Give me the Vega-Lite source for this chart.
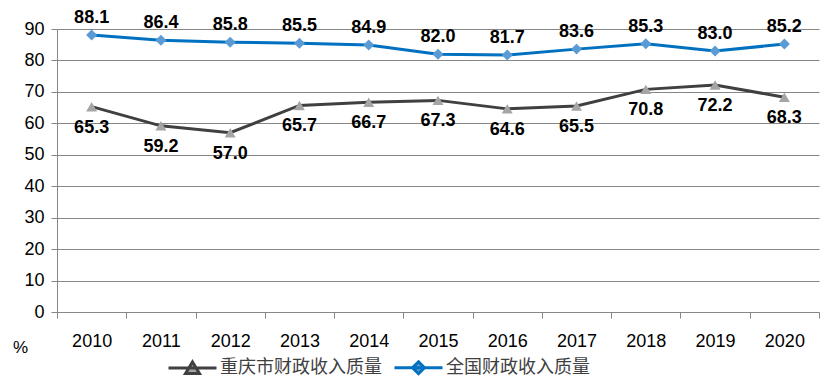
{
  "$schema": "https://vega.github.io/schema/vega-lite/v6.json",
  "width": 762,
  "height": 283,
  "autosize": "none",
  "padding": {"left": 57, "top": 29, "right": 5, "bottom": 76},
  "background": "white",
  "config": {"view": {"stroke": null}},
  "data": {"values": [
    {"year": "2010", "series": "重庆市财政收入质量", "value": 65.3},
    {"year": "2011", "series": "重庆市财政收入质量", "value": 59.2},
    {"year": "2012", "series": "重庆市财政收入质量", "value": 57.0},
    {"year": "2013", "series": "重庆市财政收入质量", "value": 65.7},
    {"year": "2014", "series": "重庆市财政收入质量", "value": 66.7},
    {"year": "2015", "series": "重庆市财政收入质量", "value": 67.3},
    {"year": "2016", "series": "重庆市财政收入质量", "value": 64.6},
    {"year": "2017", "series": "重庆市财政收入质量", "value": 65.5},
    {"year": "2018", "series": "重庆市财政收入质量", "value": 70.8},
    {"year": "2019", "series": "重庆市财政收入质量", "value": 72.2},
    {"year": "2020", "series": "重庆市财政收入质量", "value": 68.3},
    {"year": "2010", "series": "全国财政收入质量", "value": 88.1},
    {"year": "2011", "series": "全国财政收入质量", "value": 86.4},
    {"year": "2012", "series": "全国财政收入质量", "value": 85.8},
    {"year": "2013", "series": "全国财政收入质量", "value": 85.5},
    {"year": "2014", "series": "全国财政收入质量", "value": 84.9},
    {"year": "2015", "series": "全国财政收入质量", "value": 82.0},
    {"year": "2016", "series": "全国财政收入质量", "value": 81.7},
    {"year": "2017", "series": "全国财政收入质量", "value": 83.6},
    {"year": "2018", "series": "全国财政收入质量", "value": 85.3},
    {"year": "2019", "series": "全国财政收入质量", "value": 83.0},
    {"year": "2020", "series": "全国财政收入质量", "value": 85.2}
  ]},
  "encoding": {
    "x": {
      "field": "year", "type": "ordinal",
      "scale": {"type": "band", "paddingInner": 0, "paddingOuter": 0},
      "axis": {
        "title": null, "labelAngle": 0, "tickBand": "extent",
        "domainColor": "#868686", "tickColor": "#868686", "tickSize": 6,
        "labelFont": "Liberation Sans Narrow, Liberation Sans",
        "labelFontSize": 18, "labelColor": "#000000", "labelPadding": 14
      }
    },
    "y": {
      "field": "value", "type": "quantitative",
      "scale": {"domain": [0, 90], "nice": false},
      "axis": {
        "values": [0, 10, 20, 30, 40, 50, 60, 70, 80, 90],
        "title": "%", "titleAngle": 0, "titleX": -37, "titleY": 318,
        "titleAlign": "center", "titleBaseline": "middle",
        "titleFont": "Liberation Sans Narrow, Liberation Sans",
        "titleFontSize": 17, "titleFontWeight": "normal", "titleColor": "#000000",
        "grid": true, "gridColor": "#868686", "gridWidth": 1,
        "domainColor": "#868686", "tickColor": "#868686", "tickSize": 6,
        "labelFont": "Liberation Sans Narrow, Liberation Sans",
        "labelFontSize": 18, "labelColor": "#000000", "labelPadding": 7
      }
    }
  },
  "layer": [
    {
      "mark": {"type": "line", "strokeWidth": 3},
      "encoding": {
        "color": {
          "field": "series", "type": "nominal",
          "scale": {"domain": ["重庆市财政收入质量", "全国财政收入质量"], "range": ["#404040", "#0070C0"]},
          "legend": {
            "title": null, "orient": "none", "direction": "horizontal",
            "legendX": 110, "legendY": 313,
            "symbolType": "M-1,0L1,0", "symbolSize": 2304, "symbolStrokeWidth": 3,
            "labelFont": "Noto Sans CJK SC", "labelFontSize": 18, "labelColor": "#404040",
            "labelLimit": 400, "labelOffset": 2, "columnPadding": 6,
            "encode": {
              "symbols": {
                "update": {
                  "shape": {"signal": "datum.value === '重庆市财政收入质量' ? 'M-1,0L1,0M0,-0.25L0.29,0.23L-0.29,0.23Z' : 'M-1,0L1,0M0,-0.25L0.25,0L0,0.25L-0.25,0Z'"},
                  "fill": {"signal": "datum.value === '重庆市财政收入质量' ? '#A5A5A5' : '#5B9BD5'"},
                  "fillOpacity": {"value": 1},
                  "strokeWidth": {"value": 3}
                }
              }
            }
          }
        }
      }
    },
    {
      "transform": [{"filter": "datum.series === '重庆市财政收入质量'"}],
      "mark": {"type": "point", "filled": true, "opacity": 1, "shape": "triangle-up", "fill": "#A5A5A5", "size": 120}
    },
    {
      "transform": [{"filter": "datum.series === '全国财政收入质量'"}],
      "mark": {"type": "point", "filled": true, "opacity": 1, "shape": "diamond", "fill": "#5B9BD5", "size": 120}
    },
    {
      "transform": [{"filter": "datum.series === '全国财政收入质量'"}],
      "mark": {"type": "text", "dy": -17, "fontWeight": "bold", "fontSize": 18, "font": "Liberation Sans", "color": "#000000"},
      "encoding": {"text": {"field": "value", "type": "quantitative", "format": ".1f"}}
    },
    {
      "transform": [{"filter": "datum.series === '重庆市财政收入质量'"}],
      "mark": {"type": "text", "dy": 21, "fontWeight": "bold", "fontSize": 18, "font": "Liberation Sans", "color": "#000000"},
      "encoding": {"text": {"field": "value", "type": "quantitative", "format": ".1f"}}
    }
  ]
}
